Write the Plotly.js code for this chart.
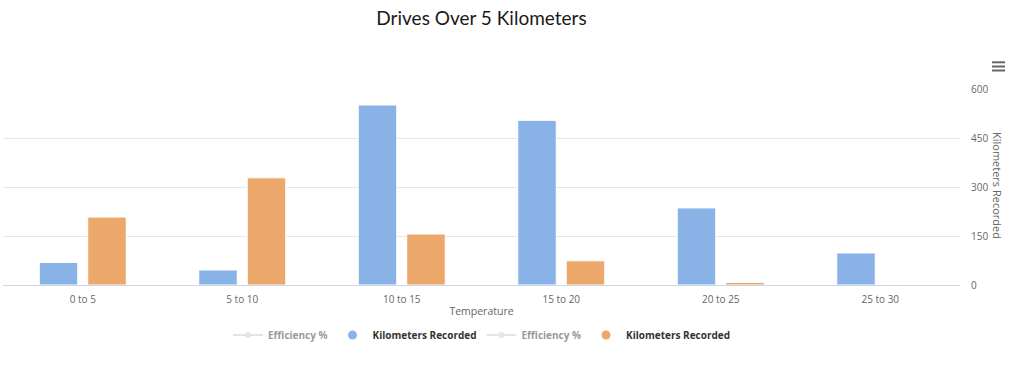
<!DOCTYPE html>
<html>
<head>
<meta charset="utf-8">
<script src="https://cdn.plot.ly/plotly-3.0.1.min.js"></script>
<style>html,body{margin:0;padding:0;background:#fff;}#chart{width:1024px;height:365px;}</style>
</head>
<body>
<div id="chart"></div>
<script>
const categories = ["0 to 5", "5 to 10", "10 to 15", "15 to 20", "20 to 25", "25 to 30"];
const kmRecordedA = [69, 46, 551, 504, 236, 98];
const kmRecordedB = [208, 328, 156, 74, 8, 0];
// Efficiency series are hidden in the reference: no values can be read
const efficiencyA = [null];
const efficiencyB = [null];
const seriesNames = ["Efficiency %", "Kilometers Recorded", "Efficiency %", "Kilometers Recorded"];
const blue = "#89b3e7";
const orange = "#eba86a";

const traces = [
  {type: "scatter", mode: "lines+markers", name: seriesNames[0], x: categories.slice(0, efficiencyA.length), y: efficiencyA,
   visible: "legendonly", line: {color: "#cccccc", width: 2}, marker: {color: "#cccccc", size: 6}, legendgroup: "e1"},
  {type: "scatter", mode: "markers", name: seriesNames[1], x: [null], y: [null],
   marker: {color: blue, size: 9, symbol: "circle"}, legendgroup: "a", hoverinfo: "skip"},
  {type: "scatter", mode: "lines+markers", name: seriesNames[2], x: categories.slice(0, efficiencyB.length), y: efficiencyB,
   visible: "legendonly", line: {color: "#cccccc", width: 2}, marker: {color: "#cccccc", size: 6}, legendgroup: "e2"},
  {type: "scatter", mode: "markers", name: seriesNames[3], x: [null], y: [null],
   marker: {color: orange, size: 9, symbol: "circle"}, legendgroup: "b", hoverinfo: "skip"},
  {type: "bar", name: seriesNames[1], x: categories, y: kmRecordedA, showlegend: false, legendgroup: "a",
   marker: {color: blue, line: {color: "#ffffff", width: 1}}},
  {type: "bar", name: seriesNames[3], x: categories, y: kmRecordedB, showlegend: false, legendgroup: "b",
   marker: {color: orange, line: {color: "#ffffff", width: 1}}}
];

const plotL = 3, plotR = 960, plotT = 89, plotB = 285;
const pw = plotR - plotL, ph = plotB - plotT;
function px(x) { return (x - plotL) / pw; }
function py(y) { return (plotB - y) / ph; }

const shapes = [62.3, 66.5, 70.5].map(y => ({
  type: "line", xref: "paper", yref: "paper",
  x0: px(992), x1: px(1005), y0: py(y), y1: py(y),
  line: {color: "#666666", width: 2}
}));

const layout = {
  width: 1024, height: 365,
  margin: {l: plotL, r: 1024 - plotR, t: plotT, b: 365 - plotB},
  paper_bgcolor: "#ffffff", plot_bgcolor: "#ffffff",
  font: {family: "Open Sans, Lucida Grande, sans-serif", color: "#666666", size: 10},
  title: {text: "Drives Over 5 Kilometers", x: 0.5, xref: "paper", xanchor: "center", y: 1 - 18/365, yanchor: "middle",
          font: {family: "Lato, sans-serif", size: 19, color: "#1a1a1a", weight: 400}},
  barmode: "group", bargap: 0.392, bargroupgap: 0.206,
  xaxis: {type: "category", showgrid: false, showline: true, linecolor: "#ccd6eb", linewidth: 1,
          ticks: "", tickfont: {size: 10, color: "#666666"}, ticklabelstandoff: 5,
          title: {text: "Temperature", font: {size: 10.5, color: "#666666"}, standoff: 2}, fixedrange: true},
  yaxis: {side: "right", range: [0, 600], tick0: 0, dtick: 150, showgrid: true, gridcolor: "#e6e6e6",
          zeroline: false, showline: false, ticks: "", tickfont: {size: 10, color: "#666666"},
          ticklabelstandoff: 10, fixedrange: true},
  showlegend: true,
  legend: {orientation: "h", x: 0.5, xanchor: "center", xref: "paper", y: py(335), yanchor: "middle",
           font: {size: 10, color: "#333333", weight: "bold"}, itemwidth: 30, tracegroupgap: 0},
  annotations: [{text: "Kilometers Recorded", xref: "paper", yref: "paper", x: px(998), y: py(186),
                 showarrow: false, textangle: 90, font: {size: 11, color: "#666666"}, xanchor: "center", yanchor: "middle"}],
  shapes: shapes
};

Plotly.newPlot("chart", traces, layout, {displayModeBar: false, responsive: false});
</script>
</body>
</html>
